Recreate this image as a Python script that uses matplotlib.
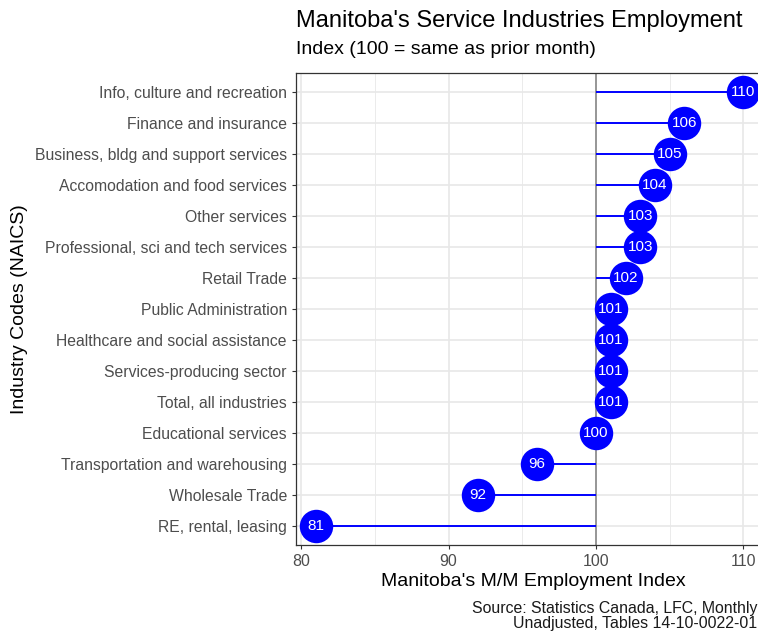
import matplotlib.pyplot as plt
from matplotlib.ticker import MultipleLocator

plt.rcParams['font.family'] = ['Liberation Sans', 'DejaVu Sans']

industries = [
    "Info, culture and recreation",
    "Finance and insurance",
    "Business, bldg and support services",
    "Accomodation and food services",
    "Other services",
    "Professional, sci and tech services",
    "Retail Trade",
    "Public Administration",
    "Healthcare and social assistance",
    "Services-producing sector",
    "Total, all industries",
    "Educational services",
    "Transportation and warehousing",
    "Wholesale Trade",
    "RE, rental, leasing",
]
index_values = [110, 106, 105, 104, 103, 103, 102, 101, 101, 101, 101, 100, 96, 92, 81]
baseline = 100

W, H = 758, 635
fig = plt.figure(figsize=(W / 100, H / 100), dpi=100)
ax = fig.add_axes([296 / W, 1 - 545 / H, (770 - 296) / W, (545 - 73) / H])

n = len(industries)
ypos = list(range(n - 1, -1, -1))

ax.set_xlim(79.65, 111.8)
ax.set_ylim(-0.6, n - 1 + 0.6)

ax.xaxis.set_major_locator(MultipleLocator(10))
ax.xaxis.set_minor_locator(MultipleLocator(5))
ax.grid(which='major', axis='both', color='#e8e8e8', lw=1.2, zorder=0)
ax.grid(which='minor', axis='x', color='#ebebeb', lw=0.7, zorder=0)
ax.set_axisbelow(True)

ax.axvline(baseline, color='#7f7f7f', lw=1.1, zorder=1)
ax.hlines(ypos, baseline, index_values, color='#0000ff', lw=1.4, zorder=2)
ax.scatter(index_values, ypos, s=580, color='#0000ff', zorder=3, linewidths=0)
for v, y in zip(index_values, ypos):
    ax.text(v, y, str(v), color='white', ha='center', va='center', fontsize=11, zorder=4)

ax.set_yticks(ypos)
ax.set_yticklabels(industries)
ax.tick_params(axis='both', colors='#333333', labelcolor='#4d4d4d', labelsize=11.3, length=3)
ax.tick_params(axis='x', which='minor', length=0)
ax.tick_params(axis='x', labelsize=11.5)

for side in ['left', 'bottom', 'top', 'right']:
    ax.spines[side].set_color('#333333')
    ax.spines[side].set_linewidth(0.9)
ax.spines['right'].set_visible(False)

ax.set_xlabel("Manitoba's M/M Employment Index", fontsize=14, color='black', labelpad=3)
fig.text(20 / W, 1 - 309 / H, "Industry Codes (NAICS)", rotation=90, fontsize=14,
         ha='center', va='center')

fig.text(296 / W, 1 - 21 / H, "Manitoba's Service Industries Employment", fontsize=17,
         ha='left', va='center')
fig.text(296 / W, 1 - 50 / H, "Index (100 = same as prior month)", fontsize=14,
         ha='left', va='center')
fig.text(0.999, 1 - 616 / H, "Source: Statistics Canada, LFC, Monthly\nUnadjusted, Tables 14-10-0022-01",
         fontsize=11.4, ha='right', va='center', linespacing=1.0, color='#1a1a1a')

fig.savefig("out.png", dpi=100)
